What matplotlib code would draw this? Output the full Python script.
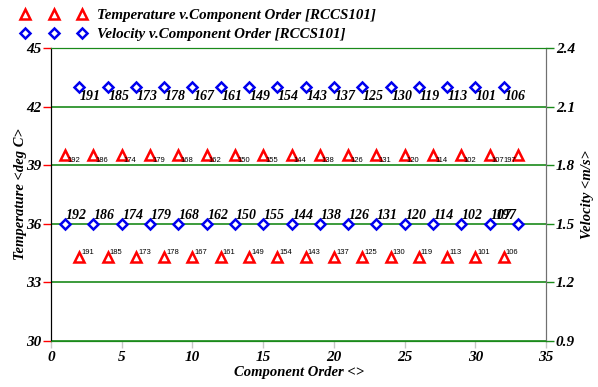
import matplotlib
matplotlib.use("Agg")
import matplotlib.pyplot as plt

# component order along the x axis
comp_order = list(range(1, 34))

# temperature <deg C> per component
temperature = [39.5, 34.3, 39.5, 34.3, 39.5, 34.3, 39.5, 34.3, 39.5, 34.3, 39.5,
               34.3, 39.5, 34.3, 39.5, 34.3, 39.5, 34.3, 39.5, 34.3, 39.5, 34.3,
               39.5, 34.3, 39.5, 34.3, 39.5, 34.3, 39.5, 34.3, 39.5, 34.3, 39.5]

# velocity <m/s> per component
velocity = [1.5, 2.2, 1.5, 2.2, 1.5, 2.2, 1.5, 2.2, 1.5, 2.2, 1.5,
            2.2, 1.5, 2.2, 1.5, 2.2, 1.5, 2.2, 1.5, 2.2, 1.5, 2.2,
            1.5, 2.2, 1.5, 2.2, 1.5, 2.2, 1.5, 2.2, 1.5, 2.2, 1.5]

# component ids shown next to each point
comp_ids = ["192", "191", "186", "185", "174", "173", "179", "178", "168", "167",
            "162", "161", "150", "149", "155", "154", "144", "143", "138", "137",
            "126", "125", "131", "130", "120", "119", "114", "113", "102", "101",
            "107", "106", "197"]

x_ticks = [0, 5, 10, 15, 20, 25, 30, 35]
temp_ticks = [30, 33, 36, 39, 42, 45]
vel_ticks = [0.9, 1.2, 1.5, 1.8, 2.1, 2.4]

SERIF = "Liberation Serif"
tick_font = dict(family=SERIF, weight="bold", style="italic", size=11)
label_font = dict(family=SERIF, weight="bold", style="italic", size=10.5)
legend_font = dict(family=SERIF, weight="bold", style="italic", size=10.8)

fig = plt.figure(figsize=(5.98, 3.87), dpi=100)
ax = fig.add_axes([0.0853, 0.1189, 0.828, 0.757])
ax2 = ax.twinx()

ax.set_xlim(0, 35)
ax.set_ylim(30, 45)
ax2.set_ylim(0.9, 2.4)

green = "#1a8a1a"
ax.set_yticks(temp_ticks)
ax.set_xticks(x_ticks)
ax2.set_yticks(vel_ticks)
ax.grid(axis="y", color=green, lw=1.2, zorder=0)
ax.set_axisbelow(True)

ax.tick_params(axis="y", colors="red", length=6, width=1, pad=1, labelcolor="black")
ax.tick_params(axis="x", colors="#c8c8c8", length=5, width=1, pad=2, labelcolor="black")
ax2.tick_params(axis="y", colors=green, length=6, width=1, pad=1, labelcolor="black")
for lab in ax.get_xticklabels() + ax.get_yticklabels() + ax2.get_yticklabels():
    lab.set_fontproperties(matplotlib.font_manager.FontProperties(**tick_font))

for a in (ax, ax2):
    a.spines["top"].set_color(green)
    a.spines["bottom"].set_color(green)
    a.spines["left"].set_color("black")
    a.spines["right"].set_color("#707070")

ax.set_xlabel("Component Order <>", fontdict=label_font, labelpad=2)
ax.set_ylabel("Temperature <deg C>", fontdict=label_font, labelpad=-1)
ax2.set_ylabel("Velocity <m/s>", fontdict=label_font, labelpad=4)

t_line, = ax.plot(comp_order, temperature, ls="none", marker="^", ms=6.5,
                  mec="red", mfc="white", mew=1.8,
                  label="Temperature v.Component Order [RCCS101]", zorder=3)
v_line, = ax2.plot(comp_order, velocity, ls="none", marker="D", ms=5.5,
                   mec="#0000ee", mfc="white", mew=1.8,
                   label="Velocity v.Component Order [RCCS101]", zorder=3)

last = len(comp_order) - 1
for i, (x, t, v, cid) in enumerate(zip(comp_order, temperature, velocity, comp_ids)):
    high_t = t > 37
    # temperature labels: small sans next to triangles
    dx, ha = (1.5, "left") if i != last else (-1, "right")
    ax.annotate(cid, (x, t), xytext=(dx, -3.5 if high_t else 3.5),
                textcoords="offset points", ha=ha, va="center",
                family="Liberation Sans", size=5.5, zorder=4)
    # velocity labels: large bold italic serif
    high_v = v > 1.8
    dx, ha = (0.5, "left") if i != last else (-0.5, "right")
    ax2.annotate(cid, (x, v), xytext=(dx, -6.5 if high_v else 6),
                 textcoords="offset points", ha=ha, va="center",
                 family=SERIF, weight="bold", style="italic", size=10, zorder=4)

fig.legend(handles=[t_line, v_line], loc="upper left", bbox_to_anchor=(0.012, 1.012),
           numpoints=3, handlelength=4.4, handletextpad=0.7, labelspacing=0.35,
           frameon=False, prop=matplotlib.font_manager.FontProperties(**legend_font))

fig.savefig("out.png", dpi=100)
